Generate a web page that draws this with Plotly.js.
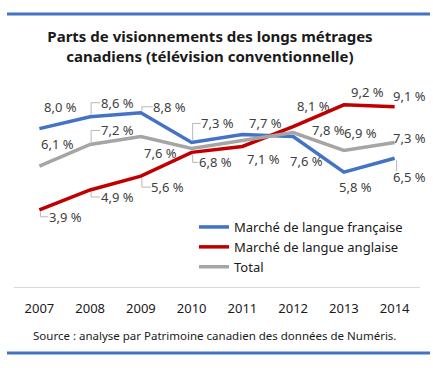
<!DOCTYPE html>
<html><head><meta charset="utf-8">
<script src="https://cdn.plot.ly/plotly-3.0.1.min.js"></script>
<style>html,body{margin:0;padding:0;background:#fff}#chart{width:433px;height:368px}</style>
</head><body><div id="chart"></div>
<script>
// ---- data ----
const years = ['2007','2008','2009','2010','2011','2012','2013','2014'];
const french = [8.0, 8.6, 8.8, 7.3, 7.7, 7.6, 5.8, 6.5];
const english = [3.9, 4.9, 5.6, 6.8, 7.1, 8.1, 9.2, 9.1];
const total = [6.1, 7.2, 7.6, 7.0, 7.4, 7.8, 6.9, 7.3];
const totalLabelShown = [true, true, true, false, false, true, true, true];
const seriesNames = ['Marché de langue française', 'Marché de langue anglaise', 'Total'];
const titleText = 'Parts de visionnements des longs métrages<br>canadiens (télévision conventionnelle)';
const sourceText = 'Source : analyse par Patrimoine canadien des données de Numéris.';

// ---- label placement (pixel offsets from the point: dx right, dy down) ----
const frenchOff = [[21,-22],[27,-14],[29,-6],[26,-19],[23,-12],[13,24],[12,15],[15,19]];
const englishOff = [[26,7],[27,7],[27,11],[24,10],[21,13],[20,-21],[24,-13],[15,-11]];
const totalOff = [[18,-22],[27,-14],[20,16],[0,0],[0,0],[35,-3],[17,-17],[15,-4]];
// leader line style per label: 0 none, 1 bracket, 2 straight
const frenchLeader = [0,1,1,1,0,0,0,2];
const englishLeader = [1,1,1,1,0,0,0,0];
const totalLeader = [0,1,0,0,0,0,0,0];

const colors = ['#4472C4', '#C00000', '#A5A5A5'];
const fmt = v => v.toFixed(1).replace('.', ',') + ' %';
const labelFont = {family: 'Noto Sans, sans-serif', size: 13, color: '#404040'};
const halfLabel = 16;

const series = [french, english, total];
const offs = [frenchOff, englishOff, totalOff];
const leaders = [frenchLeader, englishLeader, totalLeader];
const traces = series.map((vals, i) => ({
  x: years, y: vals, type: 'scatter', mode: 'lines', name: seriesNames[i],
  line: {color: colors[i], width: 3.5}, hoverinfo: 'skip'
}));

const annotations = [];
const shapes = [];
series.forEach((vals, i) => {
  vals.forEach((v, j) => {
    if (i === 2 && !totalLabelShown[j]) return;
    const [dx, dy] = offs[i][j];
    // category axis: annotation x is the category's serial index
    annotations.push({x: j, y: v, xref: 'x', yref: 'y', text: fmt(v), showarrow: false,
      xshift: dx, yshift: -dy, font: labelFont});
    const L = leaders[i][j];
    if (L) {
      const lx = dx - halfLabel - 1;
      const path = L === 1
        ? `M1,${dy < 0 ? 2 : -2} L1,${-dy} L${lx},${-dy}`
        : `M2,-2 L${lx + 4},${-dy + 6}`;
      shapes.push({type: 'path', xref: 'x', yref: 'y', xsizemode: 'pixel', ysizemode: 'pixel',
        xanchor: j, yanchor: v, path: path, line: {color: '#a6a6a6', width: 0.8}, layer: 'below'});
    }
  });
});

// plot area geometry helpers (pixels)
const W = 433, H = 368, mL = 14, mR = 13, mT = 80, mB = 81;
const pw = W - mL - mR, ph = H - mT - mB;
const px = p => (p - mL) / pw;
const py = p => (H - mB - p) / ph;

annotations.push({xref: 'paper', yref: 'paper', x: px(214), y: py(335), text: sourceText, showarrow: false,
  font: {family: 'Noto Sans, sans-serif', size: 11.5, color: '#1a1a1a'}, xanchor: 'center', yanchor: 'middle'});

shapes.push(
  {type: 'line', xref: 'paper', yref: 'paper', x0: px(7), x1: px(430), y0: py(14), y1: py(14), line: {color: '#4472C4', width: 3}},
  {type: 'line', xref: 'paper', yref: 'paper', x0: px(7), x1: px(430), y0: py(353), y1: py(353), line: {color: '#4472C4', width: 3}}
);

const layout = {
  width: W, height: H,
  margin: {l: mL, r: mR, t: mT, b: mB, pad: 0},
  paper_bgcolor: '#fff', plot_bgcolor: '#fff',
  title: {text: titleText, x: 210 / W, xanchor: 'center', y: 1 - 42 / H, yanchor: 'middle', yref: 'container',
    font: {family: 'Noto Sans, sans-serif', size: 15, color: '#1a1a1a', weight: 'bold'}},
  xaxis: {type: 'category', range: [-0.5, 7.5], showgrid: false, zeroline: false, showline: true,
    linecolor: '#d9d9d9', linewidth: 1, ticks: '', tickfont: {family: 'Noto Sans, sans-serif', size: 13, color: '#1a1a1a'},
    ticklabelstandoff: 9, fixedrange: true},
  yaxis: {range: [0, ph / 19.8], showgrid: false, zeroline: false, showline: false, showticklabels: false, ticks: '', fixedrange: true},
  showlegend: true,
  legend: {x: px(194), y: py(212), xanchor: 'left', yanchor: 'top', bgcolor: 'rgba(0,0,0,0)',
    font: {family: 'Noto Sans, sans-serif', size: 13, color: '#1a1a1a'}, tracegroupgap: 0},
  annotations: annotations, shapes: shapes
};

Plotly.newPlot('chart', traces, layout, {displayModeBar: false, staticPlot: true});
</script></body></html>
